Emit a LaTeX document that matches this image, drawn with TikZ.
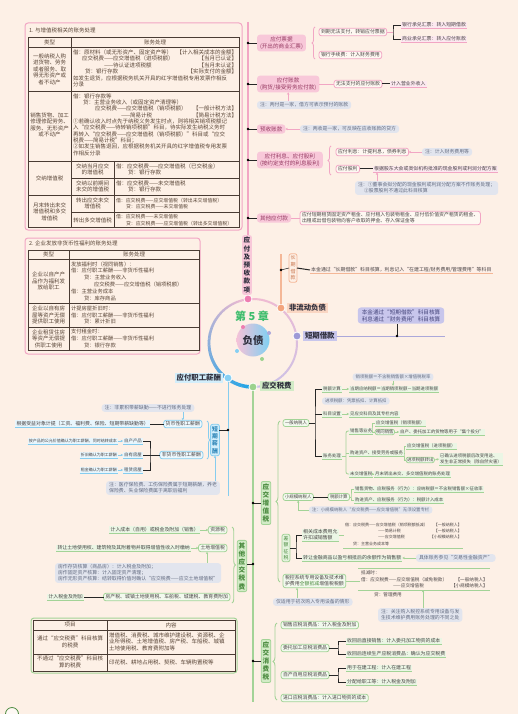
\documentclass[tikz,border=0pt]{standalone}
\usepackage{fontspec}
\setmainfont{Noto Sans CJK SC}
\usetikzlibrary{arrows.meta,decorations.pathreplacing}
\definecolor{bgc}{HTML}{FDF0E6}
\definecolor{pinkL}{HTML}{F2A6C4}
\definecolor{pinkF}{HTML}{F8C8D9}
\definecolor{pinkT}{HTML}{963A62}
\definecolor{pinkD}{HTML}{EE7DB0}
\definecolor{noteF}{HTML}{E2E5EE}
\definecolor{noteT}{HTML}{636B80}
\definecolor{greenL}{HTML}{A3D397}
\definecolor{greenF}{HTML}{D2EBC6}
\definecolor{greenT}{HTML}{4A8A3E}
\definecolor{greenD}{HTML}{9CD28E}
\definecolor{blueL}{HTML}{86CDEF}
\definecolor{blueF}{HTML}{D2EEFB}
\definecolor{blueT}{HTML}{2F86B8}
\definecolor{blueD}{HTML}{86CFF3}
\definecolor{blueS}{HTML}{1FA3E6}
\definecolor{lavL}{HTML}{ABA8DA}
\definecolor{lavF}{HTML}{C8C6EC}
\definecolor{lavT}{HTML}{45457A}
\definecolor{lavD}{HTML}{9D9AD6}
\definecolor{orL}{HTML}{F4B797}
\definecolor{orF}{HTML}{FAD6C3}
\definecolor{orT}{HTML}{C9734A}
\definecolor{orD}{HTML}{F3A47D}
\definecolor{tabL}{HTML}{4A3C34}
\definecolor{tabT}{HTML}{5A4638}
\definecolor{txtc}{HTML}{4A4444}
\definecolor{labT}{HTML}{2E2E3C}
\definecolor{chapG}{HTML}{3DBD6C}
\definecolor{ringP}{HTML}{F3B9D0}
\definecolor{ringL}{HTML}{C6C2EA}
\definecolor{innL}{HTML}{F5C2D8}
\definecolor{innR}{HTML}{7FD0F2}
\newcommand\FtS{\fontsize{4.9}{6}\selectfont}
\newcommand\FtX{\fontsize{4.4}{5.4}\selectfont}
\newcommand\FtXX{\fontsize{4.0}{5}\selectfont}
\newcommand\FtK{\fontsize{4.6}{5.6}\selectfont}
\newcommand\FtT{\fontsize{5.5}{6.5}\selectfont}
\newcommand\FtM{\fontsize{5.6}{6.8}\selectfont}
\newcommand\FtB{\fontsize{7.4}{9}\selectfont\bfseries}
\newcommand\FtV{\fontsize{6.6}{8.2}\selectfont\bfseries}
\begin{document}
\begin{tikzpicture}[x=1pt,y=-1pt,
  every node/.style={inner sep=0pt,outer sep=0pt,text=txtc},
  blk/.style={draw=black!85,line width=0.6pt},
  blkb/.style={draw=black!85,line width=0.9pt},
  uline/.style={append after command={\pgfextra{\let\ulnode\tikzlastnode}(\ulnode.south west) edge[draw=#1,line width=0.8pt] (\ulnode.south east)}},
  sm/.style={font=\FtS,align=left,inner xsep=1.2pt,inner ysep=1.2pt},
  pbox/.style={sm,draw=pinkL,line width=0.8pt,rounded corners=2.5pt,fill=white!50!bgc,inner xsep=2pt,inner ysep=1.5pt},
  gbox/.style={sm,draw=greenL,line width=0.8pt,rounded corners=2.5pt,fill=greenF!30,inner xsep=2pt,inner ysep=1.5pt},
  gboxx/.style={gbox,font=\FtX},
  bbox/.style={sm,draw=blueL,line width=0.8pt,rounded corners=2.5pt,fill=blueF!40,inner xsep=2pt,inner ysep=1.5pt},
  pul/.style={sm,fill=pinkF!40,uline=pinkL},
  gul/.style={sm,fill=greenF!45,uline=greenL},
  gulx/.style={gul,font=\FtX},
  bul/.style={sm,fill=blueF!50,uline=blueL},
  oul/.style={sm,fill=orF!40,uline=orL},
  note/.style={sm,fill=noteF,text=noteT,rounded corners=3pt,inner xsep=3pt,inner ysep=1.6pt},
  pmain/.style={font=\FtM,fill=pinkF,text=pinkT,align=center,rounded corners=3pt,inner xsep=3pt,inner ysep=2pt},
  vbox/.style={align=center,rounded corners=2pt,line width=0.8pt,inner xsep=1.5pt,inner ysep=2pt},
  lab/.style={font=\FtB,text=labT,inner xsep=2pt,inner ysep=1pt},
  dotn/.style={circle,draw=white,line width=0.8pt,minimum size=8pt},
  tc/.style={font=\FtT,text=tabT,align=center},
  tl/.style={font=\FtT,text=tabT,align=left,anchor=west},
  tr/.style={font=\FtT,text=tabT,anchor=east},
  tabO/.style={draw=tabL,line width=0.9pt},
  tabI/.style={draw=tabL,line width=0.6pt},
  arrP/.style={draw=pinkL,line width=0.7pt,-{Stealth[length=2.4pt,width=2.4pt]}},
  arrG/.style={draw=greenL,line width=0.7pt,-{Stealth[length=2.4pt,width=2.4pt]}},
  arrB/.style={draw=blueL,line width=0.7pt,-{Stealth[length=2.4pt,width=2.4pt]}},
  brc/.style={decorate,decoration={brace,amplitude=#1}},
]
\fill[bgc] (0,0) rectangle (518,714);
\useasboundingbox (0,0) rectangle (518,714);

% ================= TABLE 1 =================
\draw[pinkL,line width=1pt,rounded corners=3pt] (25,23) rectangle (242,230);
\node[anchor=west,font=\FtT,text=tabT] (t1title) at (29,30) {1. 与增值税相关的账务处理};
\draw[tabO] (28,37) rectangle (239,227);
\draw[tabI] (28,47) -- (239,47) (28,91) -- (239,91) (28,161) -- (239,161) (28,195) -- (239,195);
\draw[tabI] (71,37) -- (71,227) (114,161) -- (114,227) (71,178) -- (239,178) (71,212) -- (239,212);
\node[tc] (t1h1) at (49.5,42) {类型};
\node[tc] (t1h2) at (155,42) {账务处理};
\node[tc] (t1a) at (49.5,69) {一般纳税人购\\进货物、劳务\\或者服务、取\\得无形资产或\\者不动产};
\node[tl] (t1b) at (73,68.5) {借：原材料（或无形资产、固定资产等）\\\hspace*{9pt}应交税费——应交增值税（进项税额）\\\hspace*{31pt}——待认证进项税额\\\hspace*{12pt}贷：银行存款\\如发生退货，应根据税务机关开具的红字增值税专用发票作相反\\分录};
\node[tr] (t1b1) at (237,52.3) {【计入相关成本的金额】};
\node[tr] (t1b2) at (237,58.8) {【当月已认证】};
\node[tr] (t1b3) at (237,65.3) {【当月未认证】};
\node[tr] (t1b4) at (237,71.8) {【实际支付的金额】};
\node[tc] (t1c) at (49.5,125) {销售货物、加工\\修理修配劳务、\\服务、无形资产\\或不动产};
\node[tl,font=\fontsize{5.5}{6.35}\selectfont] (t1d) at (73,124.5) {借：银行存款等\\\hspace*{10pt}贷：主营业务收入（或固定资产清理等）\\\hspace*{22pt}应交税费——应交增值税（销项税额）\\\hspace*{48pt}——简易计税\\①若确认收入时点先于纳税义务发生时点，则将相关销项税额记\\入“应交税费——待转销项税额”科目，待实际发生纳税义务时\\再转入“应交税费——应交增值税（销项税额）”科目或“应交\\税费——简易计税”科目；\\②如发生销售退回，应根据税务机关开具的红字增值税专用发票\\作相反分录};
\node[tr] (t1d1) at (237,108.6) {【一般计税方法】};
\node[tr] (t1d2) at (237,115) {【简易计税方法】};
\node[tc] (t1e) at (49.5,178) {交纳增值税};
\node[tc] (t1e1) at (92.5,169.5) {交纳当月应交\\的增值税};
\node[tc] (t1e2) at (92.5,186.5) {交纳以前期间\\未交的增值税};
\node[tl] (t1e3) at (116,169.5) {借：应交税费——应交增值税（已交税金）\\\hspace*{12pt}贷：银行存款};
\node[tl] (t1e4) at (116,186.5) {借：应交税费——未交增值税\\\hspace*{12pt}贷：银行存款};
\node[tc] (t1f) at (49.5,211.5) {月末转出未交\\增值税和多交\\增值税};
\node[tc] (t1f1) at (92.5,203.5) {转出应交未交\\增值税};
\node[tc] (t1f2) at (92.5,220) {转出多交增值税};
\node[tl,font=\fontsize{4.9}{6.5}\selectfont] (t1f3) at (116,203.5) {借：应交税费——应交增值税（转出未交增值税）\\\hspace*{10pt}贷：应交税费——未交增值税};
\node[tl,font=\fontsize{4.9}{6.5}\selectfont] (t1f4) at (116,220) {借：应交税费——未交增值税\\\hspace*{10pt}贷：应交税费——应交增值税（转出多交增值税）};

% ================= TABLE 2 =================
\draw[pinkL,line width=1pt,rounded corners=3pt] (25,238) rectangle (200,354);
\node[anchor=west,font=\FtT,text=tabT] (t2title) at (29,243.5) {2. 企业发放非货币性福利的账务处理};
\draw[tabO] (28,250) rectangle (199,350);
\draw[tabI] (28,259) -- (199,259) (28,303) -- (199,303) (28,327) -- (199,327) (69,250) -- (69,350);
\node[tc] (t2h1) at (48.5,254.5) {类型};
\node[tc] (t2h2) at (134,254.5) {账务处理};
\node[tc] (t2a) at (48.5,281) {企业以自产产\\品作为福利发\\放给职工};
\node[tl,font=\fontsize{5.3}{6.8}\selectfont] (t2b) at (71,281) {发放福利时（视同销售）：\\借：应付职工薪酬——非货币性福利\\\hspace*{13pt}贷：主营业务收入\\\hspace*{23pt}应交税费——应交增值税（销项税额）\\借：主营业务成本\\\hspace*{13pt}贷：库存商品};
\node[tc] (t2c) at (48.5,315) {企业以自有房\\屋等资产无偿\\提供职工使用};
\node[tl,font=\fontsize{5.3}{6.8}\selectfont] (t2d) at (71,315) {计提房屋折旧时：\\借：应付职工薪酬——非货币性福利\\\hspace*{13pt}贷：累计折旧};
\node[tc] (t2e) at (48.5,338.5) {企业租赁住房\\等资产无偿提\\供职工使用};
\node[tl,font=\fontsize{5.3}{6.8}\selectfont] (t2f) at (71,338.5) {支付租金时：\\借：应付职工薪酬——非货币性福利\\\hspace*{13pt}贷：银行存款};

% ================= TABLE 3 =================
\draw[greenL,line width=1pt,rounded corners=3pt] (31,618) rectangle (237,673);
\draw[tabO] (33,620) rectangle (235,671);
\draw[tabI] (33,630) -- (235,630) (33,654) -- (235,654) (107,620) -- (107,671);
\node[tc] (t3h1) at (70,625) {项目};
\node[tc] (t3h2) at (171,625) {内容};
\node[tc] (t3a) at (70,642) {通过“应交税费”科目核算\\的税费};
\node[tl] (t3b) at (109,641.5) {增值税、消费税、城市维护建设税、资源税、企\\业所得税、土地增值税、房产税、车船税、城镇\\土地使用税、教育费附加等};
\node[tc] (t3c) at (70,662) {不通过“应交税费”科目核\\算的税费};
\node[tl] (t3d) at (109,662) {印花税、耕地占用税、契税、车辆购置税等};
\draw[greenT,line width=0.8pt,fill=white!60!bgc] (12,714) circle (6.5pt);

% ================= RING & CENTRE =================
\begin{scope}[shift={(253,343)}]
 \foreach \a in {96,99,...,267}{
   \pgfmathsetmacro\p{(\a-96)/171*100}
   \pgfmathsetmacro\w{2+1.6*(\a-96)/171}
   \pgfmathsetmacro\b{\a+3.3}
   \draw[line width=\w pt,color=blueS!\p!ringP] (\a:44pt) arc[start angle=\a,end angle=\b,radius=44pt];
 }
 \foreach \a in {-90,-87,...,93}{
   \pgfmathsetmacro\p{(\a+90)/183*100}
   \pgfmathsetmacro\b{\a+3.3}
   \draw[line width=2pt,color=ringP!\p!ringL] (\a:44pt) arc[start angle=\a,end angle=\b,radius=44pt];
 }
\end{scope}
\shade[left color=innL,right color=innR] (253,340) circle (16.5pt);
\node[font=\fontsize{10.5}{12}\selectfont\bfseries,text=labT] (fz) at (253,341) {负债};
\node[font=\fontsize{11}{13}\selectfont\bfseries,text=chapG] (chap) at (252,316) {第 5 章};
\fill[pinkD] (243,327) circle (2pt);
\fill[blueD] (237,351) circle (2pt);
\fill[lavL] (269,333) circle (2pt);
\fill[greenD] (262,359) circle (2pt);

% ================= PINK BRANCH =================
\node[vbox,fill=pinkF,text=labT,font=\FtV] (pv) at (247,265) {应\\付\\及\\预\\收\\款\\项};
\node[dotn,fill=pinkD] (cp) at (248,299) {};
\coordinate (ptop) at (248,22);
\draw[pinkL,line width=1.3pt] (ptop) -- (ptop |- pv.north);
\draw[pinkL,line width=1.3pt] (pv.south) -- (cp);
\coordinate (d1) at (248,43);
\coordinate (d2) at (248,84);
\coordinate (d3) at (248,129);
\coordinate (d4) at (248,160);
\coordinate (d5) at (248,218);

\node[pmain,anchor=west] (pf) at (257,43) {应付票据\\(开出的商业汇票)};
\draw[pinkL,line width=0.8pt,brc=3pt] (315,59) -- (315,27);
\node[pbox,anchor=west] (pf1) at (319,32) {到期无法支付，转销应付票据};
\node[pbox,anchor=west] (pf2) at (319,55) {银行手续费：计入财务费用};
\coordinate (pfk) at (393,32);
\node[pul,anchor=west] (pf11) at (401,25) {银行承兑汇票：转入短期借款};
\node[pul,anchor=west] (pf12) at (401,39) {商业承兑汇票：转入应付账款};
\draw[pinkL,line width=0.8pt] (pf1.east) -- (pfk);
\draw[blkb] (pf11.west) -| (pfk) |- (pf12.west);

\node[pmain,anchor=west] (pa) at (257,84) {应付账款\\(购货/接受劳务应付款)};
\node[pbox,anchor=west] (pa1) at (334,84) {无法支付的应付账款};
\node[pul,anchor=west] (pa2) at (390,84) {计入营业外收入};
\draw[pinkL,line width=0.8pt] (pa.east) -- (pa1.west);
\draw[black!85,line width=1pt] (pa1.east) -- (pa2.west);
\node[note,anchor=west] (pan) at (257,105) {注：两付是一家，借方可表示预付的账款};
\draw[arrP] (pan.north -| pa.south) -- (pa.south);

\node[pmain,anchor=west] (py) at (257,129) {预收账款};
\node[note,anchor=west] (pyn) at (300,129) {注：两收是一家，可反映在应收账款的贷方};
\draw[arrP] (pyn.west) -- (py.east);

\node[pmain,anchor=west] (pi) at (257,160) {应付利息、应付股利\\(按约定支付的利息股利)};
\draw[pinkL,line width=0.8pt,brc=3pt] (331,175) -- (331,146);
\node[pbox,anchor=west] (pi1) at (336,152) {应付利息：计提利息，债券利息};
\node[note,anchor=west] (pi1n) at (422,152) {注：计入财务费用等};
\draw[arrP] (pi1n.west) -- (pi1.east);
\node[pbox,anchor=west] (pi2) at (336,169) {应付股利};
\node[pul,anchor=west] (pi3) at (373,169) {根据股东大会或类似机构批准的现金股利或利润分配方案};
\draw[black!85,line width=1pt] (pi2.east) -- (pi3.west);
\node[note,anchor=west] (pi3n) at (355,188) {注：①董事会拟分配的现金股利或利润分配方案不作账务处理；\\\hspace*{6pt}②股票股利不通过此科目核算};
\coordinate (pia) at (377,181);
\draw[arrP] (pia |- pi3n.north) -- (pia |- pi3.south);

\node[pmain,anchor=west] (po) at (257,218) {其他应付款};
\node[pbox,anchor=west] (po1) at (300,218) {应付短期租赁固定资产租金、应付租入包装物租金、应付低价值资产租赁的租金、\\出租或出借包装物向客户收取的押金、存入保证金等};
\draw[pinkL,line width=0.8pt] (po.east) -- (po1.west);

\foreach \d/\n in {d1/pf,d2/pa,d3/py,d4/pi,d5/po}{
  \draw[blk] (\d) -- (\n.west);
  \fill[black] (\d) circle (1.4pt);
}

% ================= ORANGE: NON-CURRENT =================
\node[dotn,fill=orD] (co) at (281,308) {};
\node[lab,fill=orF,anchor=west] (lno) at (287,308) {非流动负债};
\coordinate (otop) at (281,254);
\draw[orL,line width=1.2pt] (co) -- (otop);
\coordinate (od) at (281,270);
\node[vbox,draw=orL,fill=bgc,text=orT,font=\fontsize{5}{6.6}\selectfont] (lcj) at (293,268) {长\\期\\借\\款};
\node[oul,anchor=west] (lcjt) at (310,270) {本金通过“长期借款”科目核算，利息记入“在建工程/财务费用/管理费用”等科目};
\draw[blk] (od) -- (lcj.west);
\fill[black] (od) circle (1.4pt);
\draw[black!85,line width=1pt] (lcj.east) -- (lcjt.west);

% ================= LAVENDER: SHORT-TERM LOAN =================
\node[dotn,fill=lavD] (cl) at (297,336) {};
\node[lab,fill=lavF,anchor=west] (lsb) at (303,336) {短期借款};
\coordinate (lend) at (445,336);
\draw[lavL,line width=1pt] (lsb.east) -- (lend);
\node[font=\FtM,fill=lavF,text=lavT,align=center,rounded corners=3pt,inner xsep=4pt,inner ysep=2pt] (lsn) at (401,315.5) {本金通过“短期借款”科目核算\\利息通过“财务费用”科目核算};
\coordinate (ld) at (397,336);
\draw[blkb] (ld) -- (ld |- lsn.south);
\fill[black] (ld) circle (1.4pt);

% ================= BLUE: EMPLOYEE PAY =================
\node[dotn,fill=blueD] (cb) at (228,378) {};
\node[lab,fill=blueF,anchor=east] (lzx) at (223,378) {应付职工薪酬};
\coordinate (bbot) at (228,496);
\draw[blueL,line width=1pt] (cb) -- (bbot);
\coordinate (bd) at (228,430);
\node[vbox,draw=blueL,fill=blueF,text=blueT,font=\fontsize{5.8}{7.3}\selectfont\bfseries] (bdq) at (215,440) {短\\期\\薪\\酬};
\draw[blk] (bd) -- (bd -| bdq.east);
\fill[black] (bd) circle (1.4pt);
\draw[blueL,line width=0.8pt,brc=3pt] (207,421) -- (207,459);
\node[bbox,anchor=east] (bh1) at (202,424) {货币性职工薪酬};
\node[bul,anchor=east] (bh1t) at (150,424) {根据受益对象计提（工资、福利费、保险、短期带薪缺勤等）};
\draw[black!85,line width=1pt] (bh1.west) -- (bh1t.east);
\node[note,anchor=center] (bn1) at (148,408) {注：非累积带薪缺勤——不进行账务处理};
\draw[arrB] (bh1.north |- bn1.south) -- (bh1.north);
\node[bbox,anchor=east] (bh2) at (203,455) {非货币性职工薪酬};
\coordinate (bk) at (150,455);
\node[bul,anchor=east,font=\FtX] (bi1) at (143,441) {自产产品};
\node[bul,anchor=east,font=\FtX] (bi2) at (143,455) {自有房屋};
\node[bul,anchor=east,font=\FtX] (bi3) at (143,470) {租赁房屋};
\draw[blkb] (bh2.west) -- (bk);
\draw[blkb] (bi1.east) -| (bk) |- (bi3.east);
\draw[blkb] (bi2.east) -- (bk);
\node[bul,anchor=east,font=\FtXX] (bt1) at (118,441) {按产品的公允价值确认为职工薪酬，同时结转成本};
\node[bul,anchor=east,font=\FtXX] (bt2) at (118,455) {折旧确认为职工薪酬};
\node[bul,anchor=east,font=\FtXX] (bt3) at (118,470) {租金确认为职工薪酬};
\draw[arrB] (bt1.east) -- (bi1.west);
\draw[arrB] (bt2.east) -- (bi2.west);
\draw[arrB] (bt3.east) -- (bi3.west);
\node[note,anchor=center] (bn2) at (163,488) {注：医疗保险费、工伤保险费属于短期薪酬，养老\\保险费、失业保险费属于离职后福利};
\draw[arrB] (bdq.south |- bn2.north) -- (bdq.south);

% ================= GREEN: TAXES =================
\node[dotn,fill=greenD] (cg) at (253,387) {};
\node[lab,fill=greenF,anchor=west] (lyj) at (260,386) {应交税费};
\coordinate (gbot) at (253,702);
\draw[greenL,line width=1.2pt] (cg) -- (gbot);
\coordinate (gd1) at (253,503);
\coordinate (gd2) at (253,564);
\coordinate (gd3) at (253,661);

% --- VAT
\node[vbox,draw=greenL,fill=greenF,text=greenT,font=\FtV] (gzz) at (266,503) {应\\交\\增\\值\\税};
\draw[blk] (gd1) -- (gzz.west);
\draw[greenL,line width=0.9pt,brc=4pt] (280,582) -- (280,421);
\node[gboxx,anchor=west] (gy) at (283,423) {一般纳税人};
\coordinate (gyk) at (315,423);
\node[gulx,anchor=west] (g1) at (322,389) {税额计算};
\node[gulx,anchor=west] (g1t) at (349,389) {当期应纳税额＝当期销项税额－当期进项税额};
\node[note,font=\FtX,anchor=center] (gn0) at (393,377) {销项税额＝不含税销售额×增值税税率};
\node[note,font=\FtX,anchor=west] (gn1) at (322,401) {进项税额：凭票抵扣、计算抵扣};
\node[gulx,anchor=west] (g2) at (322,414) {科目设置};
\node[gulx,anchor=west] (g2t) at (349,414) {见应交科目及其专栏内容};
\node[gulx,anchor=west] (g3) at (322,456) {账务处理};
\draw[blk] (gy.east) -- (gyk);
\draw[blkb] (g1.west) -| (gyk) |- (g3.west);
\draw[blkb] (gyk |- g2.west) -- (g2.west);
\draw[arrG] (g1.east) -- (g1t.west);
\draw[arrG] (g2.east) -- (g2t.west);
\draw[arrG] (gn0.south) -- (gn0.south |- g1t.north);
\coordinate (g3k) at (346,456);
\node[gulx,anchor=west] (g31) at (349,431) {销售等业务};
\node[gulx,anchor=west] (g32) at (349,453) {购进资产、接受劳务或服务};
\node[gulx,anchor=west] (g33) at (349,474) {未交增值税};
\draw[greenL,line width=0.8pt] (g3.east) -- (g3k);
\draw[greenL,line width=0.8pt,rounded corners=2pt] (g31.west) -| (g3k) |- (g33.west);
\draw[greenL,line width=0.8pt] (g3k |- g32.west) -- (g32.west);
\coordinate (g31k) at (372,431);
\node[gulx,anchor=west] (g311) at (375,423) {应交增值税（销项税额）};
\node[gboxx,anchor=west,inner xsep=1pt,inner ysep=0.8pt] (g312) at (375,432) {视同销售};
\node[gulx,anchor=west] (g312t) at (399,432) {自产、委托加工的货物等用于“集个投分”};
\draw[greenL,line width=0.8pt] (g31.east) -- (g31k);
\draw[greenL,line width=0.8pt] (g311.west) -| (g31k) |- (g312.west);
\draw[arrG] (g312.east) -- (g312t.west);
\coordinate (g32k) at (404,453);
\node[gulx,anchor=west] (g321) at (406,446) {应交增值税（进项税额）};
\node[gboxx,anchor=west,inner xsep=1pt,inner ysep=0.8pt] (g322) at (406,460) {进项税额转出};
\node[gulx,anchor=west] (g322t) at (439,459) {已确认进项税额后改变用途、\\发生非正常损失（除自然灾害）};
\draw[greenL,line width=0.8pt] (g32.east) -- (g32k);
\draw[greenL,line width=0.8pt] (g321.west) -| (g32k) |- (g322.west);
\draw[arrG] (g322.east) -- (g322t.west);
\node[gulx,anchor=west] (g33t) at (374,474) {月末转出未交、多交增值税的账务处理};
\draw[arrG] (g33.east) -- (g33t.west);

\node[gboxx,anchor=west] (gx) at (283,497) {小规模纳税人};
\node[gboxx,anchor=west] (gx1) at (328,497) {税额计算};
\draw[black!85,line width=1pt] (gx.east) -- (gx1.west);
\coordinate (gxk) at (351,497);
\node[gulx,anchor=west] (gx11) at (354,489) {销售货物、应税服务（行为）：应纳税额＝不含税销售额×征收率};
\node[gulx,anchor=west] (gx12) at (354,500) {购进资产、应税服务（行为）：税额计入成本};
\draw[greenL,line width=0.8pt] (gx1.east) -- (gxk);
\draw[greenL,line width=0.8pt] (gx11.west) -| (gxk) |- (gx12.west);
\node[note,font=\FtX,anchor=west] (gxn) at (309,510) {注：小规模纳税人“应交税费——应交增值税”无须设置专栏};
\draw[arrG] (gxn.west) -| (gx.south);

\node[vbox,draw=greenL,fill=greenF!60,text=greenT,font=\fontsize{4.9}{6.3}\selectfont] (gc) at (286,548) {差\\额\\征\\税};
\coordinate (gck) at (296,548);
\node[gul,anchor=west] (gc1) at (302,535) {相关成本费用允\\许扣减销售额};
\node[gul,anchor=west] (gc2) at (302,558) {转让金融商品以盈亏相抵后的余额作为销售额};
\draw[blk] (gc.east) -- (gck);
\draw[blkb] (gc1.west) -| (gck) |- (gc2.west);
\node[sm,font=\FtXX,anchor=west] (ge1) at (344,525) {借：应交税费——应交增值税（销项税额抵减）};
\node[sm,font=\FtXX,anchor=west] (ge2) at (377,531) {——简易计税};
\node[sm,font=\FtXX,anchor=west] (ge3) at (377,537) {——应交增值税};
\node[sm,font=\FtXX,anchor=west] (ge4) at (352,543.5) {贷：主营业务成本等};
\node[sm,font=\FtXX,anchor=east] (ge5) at (463,525) {【一般纳税人】};
\node[sm,font=\FtXX,anchor=east] (ge6) at (463,531) {【一般纳税人】};
\node[sm,font=\FtXX,anchor=east] (ge7) at (463,537) {【小规模纳税人】};
\draw[greenL,line width=0.8pt] (gc1.east) -- (ge1.west |- gc1.east);
\draw[greenL,line width=0.8pt] (343,548) -- (463,548);
\node[note,anchor=west] (gcn) at (416,558) {具体账务参见“交易性金融资产”};
\draw[arrG] (gcn.west) -- (gc2.east);

\node[gbox,anchor=west] (gk) at (283,581) {税控系统专用设备及技术维\\护费用{\color{greenT}全额抵减}增值税税额};
\draw[greenL,line width=0.8pt] (358,568) -- (490,568);
\node[sm,font=\FtK,anchor=west] (gk1) at (360,573) {抵减时：};
\node[sm,font=\FtK,anchor=west] (gk2) at (360,580) {借：应交税费——应交增值税（减免税款）};
\node[sm,font=\FtK,anchor=east] (gk3) at (489,580) {【一般纳税人】};
\node[sm,font=\FtK,anchor=west] (gk4) at (392,586) {——应交增值税};
\node[sm,font=\FtK,anchor=east] (gk5) at (489,586) {【小规模纳税人】};
\draw[greenL,line width=0.8pt] (358,590) -- (490,590);
\node[sm,font=\FtK,anchor=west] (gk6) at (373,595) {贷：管理费用};
\draw[greenL,line width=0.8pt] (gk.east) -- (gk2.west |- gk.east);
\node[note,anchor=west] (gkn1) at (273,602) {仅适用于初次购入专用设备的情形};
\coordinate (gka) at (297,590);
\draw[arrG] (gka |- gkn1.north) -- (gka |- gk.south);
\node[note,anchor=west] (gkn2) at (378,615) {注：关注购入税控系统专用设备与发\\生技术维护费用账务处理的不同之处};
\coordinate (gkb) at (423,590);
\draw[arrG] (gkb |- gkn2.north) -- (gkb);

% --- other taxes
\node[vbox,draw=greenL,fill=greenF,text=greenT,font=\FtV] (gqt) at (242,566) {其\\他\\应\\交\\税\\费};
\draw[blk] (gd2) -- (gd2 -| gqt.east);
\draw[greenL,line width=0.9pt,brc=3.5pt] (232,527) -- (232,603);
\node[gbox,anchor=east] (go1) at (227,530) {资源税};
\node[gul,anchor=east] (go1t) at (200,530) {计入成本（自用）或税金及附加（销售）};
\draw[arrG] (go1t.east) -- (go1.west);
\node[gbox,anchor=east] (go2) at (227,548) {土地增值税};
\node[gul,anchor=east] (go2t) at (191,548) {转让土地使用权、建筑物及其附着物并取得增值性收入时缴纳};
\draw[arrG] (go2t.east) -- (go2.west);
\node[note,anchor=west] (go2n) at (55,573) {房作存货核算（商品房）：计入税金及附加；\\房作固定资产核算：计入固定资产清理；\\房作无形资产核算：结转取得价值时确认“应交税费——应交土地增值税”};
\coordinate (goa) at (207,557);
\draw[arrG] (goa |- go2n.north) -- (goa |- go2.south);
\node[gbox,anchor=east] (go3) at (230,597) {房产税、城镇土地使用税、车船税、城建税、教育费附加};
\node[gul,anchor=east] (go3t) at (84,597) {计入税金及附加};
\draw[black!85,line width=1pt] (go3.west) -- (go3t.east);

% --- consumption tax
\node[vbox,draw=greenL,fill=greenF,text=greenT,font=\FtV] (gxf) at (266,661) {应\\交\\消\\费\\税};
\draw[blk] (gd3) -- (gxf.west);
\draw[greenL,line width=0.9pt,brc=4pt] (277,700) -- (277,623);
\node[gbox,anchor=west] (gs1) at (281,625) {销售应税消费品：计入税金及附加};
\node[gbox,anchor=west] (gs2) at (281,648) {委托加工应税消费品};
\coordinate (gs2k) at (338,648);
\node[gul,anchor=west] (gs21) at (346,641) {收回后直接销售：计入委托加工物资的成本};
\node[gul,anchor=west] (gs22) at (346,654) {收回后连续生产应税消费品：确认为应交税费};
\draw[blk] (gs2.east) -- (gs2k);
\draw[blkb] (gs21.west) -| (gs2k) |- (gs22.west);
\node[gbox,anchor=west] (gs3) at (281,675) {自产自用应税消费品};
\coordinate (gs3k) at (338,675);
\node[gul,anchor=west] (gs31) at (346,668) {用于在建工程：计入在建工程};
\node[gul,anchor=west] (gs32) at (346,682) {分配给职工等：计入税金及附加};
\draw[blk] (gs3.east) -- (gs3k);
\draw[blkb] (gs31.west) -| (gs3k) |- (gs32.west);
\node[gbox,anchor=west] (gs4) at (281,698) {进口应税消费品：计入进口物资的成本};

\foreach \d in {gd1,gd2,gd3}{\fill[black] (\d) circle (1.4pt);}
\end{tikzpicture}
\end{document}
